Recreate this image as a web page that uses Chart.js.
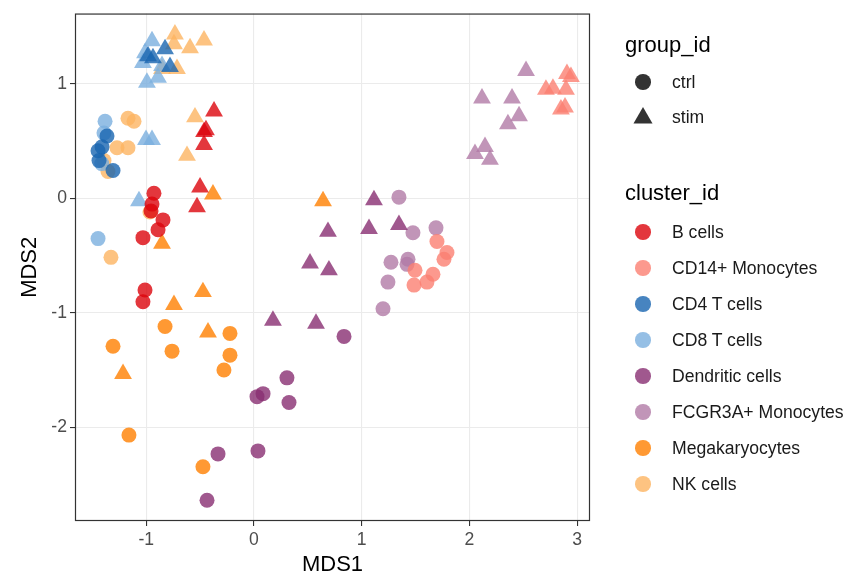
<!DOCTYPE html>
<html>
<head>
<meta charset="utf-8">
<script src="https://cdn.jsdelivr.net/npm/chart.js@4.4.1/dist/chart.umd.min.js"></script>
<style>
html,body{margin:0;padding:0;background:#ffffff;}
#wrap{position:relative;width:867px;height:578px;font-family:"Liberation Sans",Arial,Helvetica,sans-serif;overflow:hidden;}
#c{position:absolute;left:0;top:0;}
.lg{position:absolute;white-space:nowrap;height:30px;line-height:30px;}
.ttl{font-size:22px;color:#000;}
.txt{font-size:17.6px;color:#1a1a1a;}
.mk{position:absolute;}
</style>
</head>
<body>
<div id="wrap"><canvas id="c" width="867" height="578"></canvas><div id="legend"></div></div>
<script>
// ---- categories ----
const clusters = ["B cells","CD14+ Monocytes","CD4 T cells","CD8 T cells","Dendritic cells","FCGR3A+ Monocytes","Megakaryocytes","NK cells"];
const clusterColors = ["#DC050C","#FB8072","#1965B0","#7BAFDE","#882E72","#B17BA6","#FF7F00","#FDB462"];
const groups = ["ctrl","stim"];
const xTicks = [-1,0,1,2,3];
const yTicks = [-2,-1,0,1];

// ---- series values: [MDS1, MDS2] ----
const bCells_ctrl = [[-0.929,0.043],[-0.947,-0.052],[-0.956,-0.112],[-0.845,-0.190],[-0.891,-0.276],[-1.031,-0.345],[-1.012,-0.802],[-1.031,-0.905]];
const bCells_stim = [[-0.371,0.759],[-0.446,0.595],[-0.464,0.578],[-0.464,0.466],[-0.501,0.095],[-0.529,-0.078]];
const cd14_ctrl = [[1.699,-0.379],[1.792,-0.474],[1.764,-0.534],[1.495,-0.629],[1.662,-0.664],[1.606,-0.733],[1.486,-0.759]];
const cd14_stim = [[2.711,0.948],[2.776,0.957],[2.897,0.948],[2.906,1.086],[2.943,1.060],[2.850,0.776],[2.888,0.793]];
const cd4_ctrl = [[-1.365,0.543],[-1.411,0.448],[-1.448,0.414],[-1.439,0.328],[-1.309,0.241]];
const cd4_stim = [[-0.826,1.302],[-0.938,1.224],[-0.780,1.147],[-0.984,1.241]];
const cd8_ctrl = [[-1.383,0.672],[-1.393,0.569],[-1.414,0.302],[-1.448,-0.353]];
const cd8_stim = [[-0.947,1.371],[-1.012,1.267],[-1.031,1.181],[-0.854,1.155],[-0.994,1.009],[-0.891,1.052],[-1.003,0.509],[-0.947,0.509],[-1.068,-0.026]];
const dc_ctrl = [[0.836,-1.207],[0.306,-1.569],[0.325,-1.784],[0.084,-1.707],[0.028,-1.733],[0.037,-2.207],[-0.334,-2.233],[-0.436,-2.638]];
const dc_stim = [[1.114,-0.017],[1.346,-0.233],[1.068,-0.267],[0.687,-0.293],[0.520,-0.569],[0.696,-0.629],[0.176,-1.069],[0.576,-1.095]];
const fcgr_ctrl = [[1.346,0.009],[1.476,-0.302],[1.690,-0.259],[1.272,-0.560],[1.430,-0.534],[1.421,-0.578],[1.244,-0.733],[1.198,-0.966]];
const fcgr_stim = [[2.526,1.112],[2.117,0.871],[2.396,0.871],[2.461,0.716],[2.358,0.647],[2.145,0.448],[2.052,0.388],[2.191,0.336]];
const mega_ctrl = [[-0.826,-1.121],[-0.223,-1.181],[-1.309,-1.293],[-0.761,-1.336],[-0.223,-1.371],[-0.279,-1.500],[-1.161,-2.069],[-0.474,-2.345]];
const mega_stim = [[-0.381,0.034],[0.641,-0.026],[-0.854,-0.397],[-0.474,-0.819],[-0.743,-0.931],[-0.427,-1.172],[-1.216,-1.534]];
const nk_ctrl = [[-1.170,0.698],[-1.114,0.672],[-1.272,0.440],[-1.170,0.440],[-1.393,0.328],[-1.356,0.233],[-0.966,-0.121],[-1.328,-0.517]];
const nk_stim = [[-0.734,1.431],[-0.464,1.379],[-0.743,1.345],[-0.594,1.310],[-0.854,1.129],[-0.715,1.129],[-0.548,0.707],[-0.622,0.371]];

const seriesByCluster = [
  [bCells_ctrl, bCells_stim],
  [cd14_ctrl, cd14_stim],
  [cd4_ctrl, cd4_stim],
  [cd8_ctrl, cd8_stim],
  [dc_ctrl, dc_stim],
  [fcgr_ctrl, fcgr_stim],
  [mega_ctrl, mega_stim],
  [nk_ctrl, nk_stim]
];

const FONT = '"Liberation Sans", Arial, Helvetica, sans-serif';
const ALPHA = 0.8;
function rgba(hex, a){
  const n = parseInt(hex.slice(1),16);
  return `rgba(${(n>>16)&255},${(n>>8)&255},${n&255},${a})`;
}

const datasets = [];
clusters.forEach((name, ci) => {
  groups.forEach((g, gi) => {
    const pts = seriesByCluster[ci][gi];
    const isCtrl = g === "ctrl";
    datasets.push({
      label: name + " / " + g,
      data: pts.map(p => ({x: p[0], y: p[1]})),
      pointStyle: isCtrl ? "circle" : "triangle",
      pointRadius: isCtrl ? 7.5 : 10.3,
      pointHoverRadius: isCtrl ? 7.5 : 10.3,
      backgroundColor: rgba(clusterColors[ci], ALPHA),
      borderColor: "rgba(0,0,0,0)",
      borderWidth: 0,
      showLine: false
    });
  });
});

const panelBorder = {
  id: "panelBorder",
  afterDatasetsDraw(chart){
    const {ctx, chartArea: a} = chart;
    ctx.save();
    ctx.strokeStyle = "#333333";
    ctx.lineWidth = 1.2;
    ctx.strokeRect(a.left + 0.5, a.top + 0.5, a.right - a.left - 1, a.bottom - a.top - 1);
    ctx.restore();
  }
};

new Chart(document.getElementById("c"), {
  type: "scatter",
  data: { datasets },
  plugins: [panelBorder],
  options: {
    responsive: false,
    animation: false,
    events: [],
    devicePixelRatio: 1,
    layout: { padding: { top: 7, right: 277, left: 0, bottom: 0 } },
    plugins: { legend: { display: false }, tooltip: { enabled: false } },
    scales: {
      x: {
        type: "linear",
        min: -1.662, max: 3.12,
        afterBuildTicks: s => { s.ticks = xTicks.map(v => ({ value: v })); },
        afterFit: s => { s.height = 57; },
        grid: { color: "#EBEBEB", lineWidth: 1.1, tickColor: "#333333", tickLength: 5, drawTicks: true },
        border: { display: false },
        ticks: { color: "#4D4D4D", font: { size: 17.6, family: FONT }, padding: 4, maxRotation: 0, autoSkip: false,
                 callback: v => String(v) },
        title: { display: true, text: "MDS1", color: "#000000", font: { size: 22, family: FONT }, padding: { top: 0, bottom: 0 } }
      },
      y: {
        type: "linear",
        min: -2.819, max: 1.612,
        afterBuildTicks: s => { s.ticks = yTicks.map(v => ({ value: v })); },
        afterFit: s => { s.width = 75; },
        grid: { color: "#EBEBEB", lineWidth: 1.1, tickColor: "#333333", tickLength: 5, drawTicks: true },
        border: { display: false },
        ticks: { color: "#4D4D4D", font: { size: 17.6, family: FONT }, padding: 3, autoSkip: false,
                 callback: v => String(v) },
        title: { display: true, text: "MDS2", color: "#000000", font: { size: 22, family: FONT }, padding: { top: 17, bottom: 0 } }
      }
    }
  }
});

// ---- legends (HTML text) ----
const legend = document.getElementById("legend");
function addText(txt, cls, left, cy){
  const d = document.createElement("div");
  d.className = "lg " + cls;
  d.style.left = left + "px";
  d.style.top = (cy - 15) + "px";
  d.textContent = txt;
  legend.appendChild(d);
}
function addCircle(cx, cy, r, color){
  const d = document.createElement("div");
  d.className = "mk";
  d.style.left = (cx - r) + "px";
  d.style.top = (cy - r) + "px";
  d.style.width = (2*r) + "px";
  d.style.height = (2*r) + "px";
  d.style.borderRadius = "50%";
  d.style.background = color;
  legend.appendChild(d);
}
function addTriangle(cx, cy, r, color){
  const ns = "http://www.w3.org/2000/svg";
  const svg = document.createElementNS(ns, "svg");
  svg.setAttribute("width", 2*r + 4);
  svg.setAttribute("height", 2*r + 4);
  svg.style.position = "absolute";
  svg.style.left = (cx - r - 2) + "px";
  svg.style.top = (cy - r - 2) + "px";
  const p = document.createElementNS(ns, "polygon");
  const ox = r + 2, oy = r + 2, h = r * Math.sqrt(3) / 2;
  p.setAttribute("points", `${ox},${oy - r} ${ox + h},${oy + r/2} ${ox - h},${oy + r/2}`);
  p.setAttribute("fill", color);
  svg.appendChild(p);
  legend.appendChild(svg);
}

const keyColor = rgba("#000000", ALPHA);
addText("group_id", "ttl", 625, 45);
addCircle(643, 82, 7.8, keyColor);
addText(groups[0], "txt", 672, 82);
addTriangle(643, 118, 11, keyColor);
addText(groups[1], "txt", 672, 117);

addText("cluster_id", "ttl", 625, 193);
clusters.forEach((name, i) => {
  const cy = 232 + i * 36;
  addCircle(643, cy, 7.8, rgba(clusterColors[i], ALPHA));
  addText(name, "txt", 672, cy);
});
</script>
</body>
</html>
